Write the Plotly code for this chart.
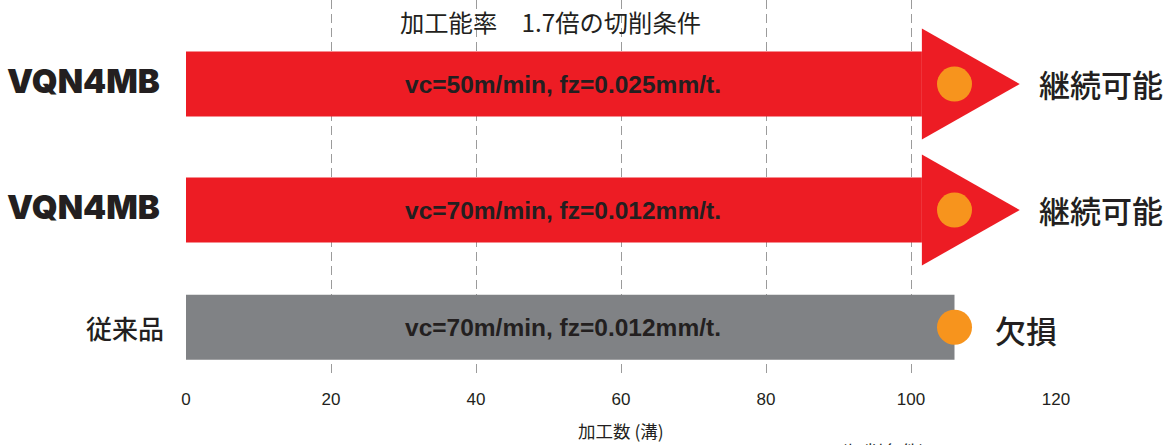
import plotly.graph_objects as go

# ---- data ----
products = ["VQN4MB", "VQN4MB", "従来品"]
conditions = ["vc=50m/min, fz=0.025mm/t.",
              "vc=70m/min, fz=0.012mm/t.",
              "vc=70m/min, fz=0.012mm/t."]
machined_count = [106, 106, 106]
results = ["継続可能", "継続可能", "欠損"]
continuing = [True, True, False]
x_ticks = [0, 20, 40, 60, 80, 100, 120]
title_text = "加工能率　1.7倍の切削条件"
x_title = "加工数 (溝)"
footnote = "(切削条件)"

# ---- style / layout constants ----
RED = "#ED1C24"
GRAY = "#808285"
ORANGE = "#F7941D"
DARK = "#231F20"
GRID = "#9B9B9B"
CJK = "Noto Sans CJK JP"
ROW_Y = [2.0, 1.0, 0.07]
BAR_W = 0.515
HEAD_HALF = 0.44
HEAD_BACK = 4.5
HEAD_FWD = 9.0
TEXT_X = 52

fig = go.Figure()

for i, v in enumerate(machined_count):
    y = ROW_Y[i]
    if continuing[i]:
        fig.add_trace(go.Bar(x=[v - HEAD_BACK], y=[y], base=0, orientation="h",
                             width=BAR_W, marker=dict(color=RED, line=dict(width=0)),
                             hoverinfo="skip"))
        fig.add_trace(go.Scatter(x=[v - HEAD_BACK, v + HEAD_FWD, v - HEAD_BACK, v - HEAD_BACK],
                                 y=[y + HEAD_HALF, y, y - HEAD_HALF, y + HEAD_HALF],
                                 mode="lines", fill="toself", fillcolor=RED,
                                 line=dict(color=RED, width=0), hoverinfo="skip"))
    else:
        fig.add_trace(go.Bar(x=[v], y=[y], base=0, orientation="h",
                             width=BAR_W, marker=dict(color=GRAY, line=dict(width=0)),
                             hoverinfo="skip"))
    fig.add_trace(go.Scatter(x=[v], y=[y], mode="markers",
                             marker=dict(size=35, color=ORANGE, line=dict(width=0)),
                             hoverinfo="skip"))

annotations = []
for i, v in enumerate(machined_count):
    y = ROW_Y[i]
    annotations.append(dict(x=TEXT_X, y=y, xref="x", yref="y", text="<b>" + conditions[i] + "</b>",
                            showarrow=False, xanchor="center", yanchor="middle",
                            font=dict(family="Liberation Sans, Arial", size=24.5, color=DARK)))
    if continuing[i]:
        annotations.append(dict(x=v + HEAD_FWD, y=y, xref="x", yref="y", text=results[i],
                                showarrow=False, xanchor="left", yanchor="middle", xshift=17, yshift=1,
                                font=dict(family=CJK, size=31, color=DARK, weight=500)))
        annotations.append(dict(x=0, y=y, xref="paper", yref="y", text=products[i],
                                showarrow=False, xanchor="right", yanchor="middle", xshift=-24, yshift=3,
                                font=dict(family="Inter, Liberation Sans", size=33, color=DARK, weight=900)))
    else:
        annotations.append(dict(x=v, y=y, xref="x", yref="y", text=results[i],
                                showarrow=False, xanchor="left", yanchor="middle", xshift=38, yshift=-2,
                                font=dict(family=CJK, size=31, color=DARK, weight=500)))
        annotations.append(dict(x=0, y=y, xref="paper", yref="y", text=products[i],
                                showarrow=False, xanchor="right", yanchor="middle", xshift=-20,
                                font=dict(family=CJK, size=26, color=DARK, weight=500)))

annotations.append(dict(x=0.4195, y=1, xref="paper", yref="paper", text=title_text,
                        showarrow=False, xanchor="center", yanchor="middle", yshift=-21,
                        font=dict(family=CJK, size=24.3, color=DARK)))
annotations.append(dict(x=0.5, y=0, xref="paper", yref="paper", text=x_title,
                        showarrow=False, xanchor="center", yanchor="middle", yshift=-52,
                        font=dict(family=CJK, size=17.5, color=DARK)))
annotations.append(dict(x=0.801, y=0, xref="paper", yref="paper", text=footnote,
                        showarrow=False, xanchor="center", yanchor="top", yshift=-58,
                        font=dict(family=CJK, size=18, color=DARK)))

fig.update_layout(
    width=1173, height=445,
    margin=dict(l=186, r=117, t=0, b=67),
    plot_bgcolor="white", paper_bgcolor="white",
    showlegend=False, barmode="overlay",
    annotations=annotations,
)
fig.update_xaxes(range=[0, 120], tickvals=x_ticks, showgrid=True, gridcolor=GRID, gridwidth=1,
                 griddash="9px,5px", zeroline=False, showline=False, ticks="",
                 ticklabelstandoff=9,
                 tickfont=dict(family="Liberation Sans, Arial", size=17, color=DARK))
fig.update_yaxes(range=[-0.333, 2.667], visible=False, showgrid=False, zeroline=False)

fig.write_html("out.html")
